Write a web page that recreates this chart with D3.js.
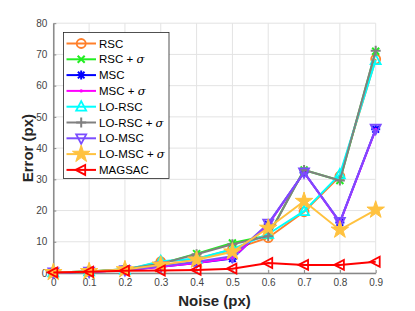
<!DOCTYPE html>
<html><head><meta charset="utf-8">
<script src="https://cdn.jsdelivr.net/npm/d3@7"></script>
<style>body{margin:0;background:#fff;}svg{display:block;font-family:Arial,"Liberation Sans",Helvetica,sans-serif;}</style>
</head><body><svg id="c" width="415" height="311"></svg>
<script>
const noise = [0,0.1,0.2,0.3,0.4,0.5,0.6,0.7,0.8,0.9];
const xTicks = [0,0.1,0.2,0.3,0.4,0.5,0.6,0.7,0.8,0.9];
const yTicks = [0,10,20,30,40,50,60,70,80];
const names = ["RSC","RSC + σ","MSC","MSC + σ","LO-RSC","LO-RSC + σ","LO-MSC","LO-MSC + σ","MAGSAC"];
const colors = ["#FF7F2A","#22EE22","#0000FF","#FF00FF","#00FFFF","#808080","#7B4DFF","#FFC23F","#FF0000"];
const markers = ["circle","x","asterisk","point","triUp","plus","triDown","star","triLeft"];
const rsc      = [0.2,0.5,1.0,3.6,4.5,7.5,11.3,19.6,31.0,68.5];
const rscS     = [0.2,0.5,1.2,3.0,6.2,9.6,12.0,33.0,29.6,71.0];
const msc      = [0.2,0.4,0.9,2.0,3.2,4.6,15.6,32.2,16.2,46.0];
const mscS     = [0.2,0.4,0.9,2.0,3.2,4.8,15.6,32.2,16.2,46.0];
const loRsc    = [0.2,0.5,1.0,3.8,4.6,7.6,12.5,19.8,31.6,68.2];
const loRscS   = [0.2,0.5,1.2,3.0,6.0,9.2,11.8,33.0,29.6,71.2];
const loMsc    = [0.2,0.4,0.9,2.2,3.6,5.4,15.8,32.2,16.4,46.2];
const loMscS   = [0.2,0.5,1.1,2.6,4.2,6.8,14.4,23.0,13.8,20.2];
const magsac   = [0.2,0.4,0.7,0.8,1.0,1.4,3.2,2.6,2.6,3.6];
const series = [rsc,rscS,msc,mscS,loRsc,loRscS,loMsc,loMscS,magsac];

const svg = d3.select("#c");
const x = d3.scaleLinear().domain([0,0.9]).range([53.3,375.7]);
const y = d3.scaleLinear().domain([0,80]).range([273,23.2]);

// grid
svg.append("g").selectAll("line").data(xTicks).join("line")
  .attr("x1",d=>x(d)).attr("x2",d=>x(d)).attr("y1",y(0)).attr("y2",y(80))
  .attr("stroke","#e3e3e3").attr("stroke-width",1);
svg.append("g").selectAll("line").data(yTicks).join("line")
  .attr("x1",x(0)).attr("x2",x(0.9)).attr("y1",d=>y(d)).attr("y2",d=>y(d))
  .attr("stroke","#e3e3e3").attr("stroke-width",1);

// axes
const xa = svg.append("g").attr("transform",`translate(0,${y(0)})`)
  .call(d3.axisBottom(x).tickValues(xTicks).tickFormat(d3.format("~g")).tickSizeInner(-3).tickSizeOuter(0).tickPadding(6));
const ya = svg.append("g").attr("transform",`translate(${x(0)},0)`)
  .call(d3.axisLeft(y).tickValues(yTicks).tickSizeInner(-3).tickSizeOuter(0).tickPadding(6));
[xa,ya].forEach(a=>{
  a.select(".domain").attr("stroke","#888").attr("stroke-width",1.5);
  a.selectAll(".tick line").attr("stroke","#888");
  a.selectAll("text").attr("fill","#444").style("font-size","10px").style("font-family","Arial,'Liberation Sans',sans-serif");
});

svg.append("text").attr("x",(x(0)+x(0.9))/2).attr("y",306).attr("text-anchor","middle")
  .style("font-weight","bold").style("font-size","15px").attr("fill","#262626").text("Noise (px)");
svg.append("text").attr("transform",`translate(33,${(y(0)+y(80))/2}) rotate(-90)`).attr("text-anchor","middle")
  .style("font-weight","bold").style("font-size","15px").attr("fill","#262626").text("Error (px)");

function drawMarker(g, type, color, cx, cy){
  const s = 5;
  if(type==="circle"){
    g.append("circle").attr("cx",cx).attr("cy",cy).attr("r",4.5).attr("fill","none").attr("stroke",color).attr("stroke-width",1.8);
  } else if(type==="x"){
    g.append("path").attr("d",`M${cx-3.5},${cy-3.5}L${cx+3.5},${cy+3.5}M${cx-3.5},${cy+3.5}L${cx+3.5},${cy-3.5}`).attr("stroke",color).attr("stroke-width",2);
  } else if(type==="asterisk"){
    g.append("path").attr("d",`M${cx-4.5},${cy}L${cx+4.5},${cy}M${cx},${cy-4.5}L${cx},${cy+4.5}M${cx-3.3},${cy-3.3}L${cx+3.3},${cy+3.3}M${cx-3.3},${cy+3.3}L${cx+3.3},${cy-3.3}`).attr("stroke",color).attr("stroke-width",2);
  } else if(type==="point"){
    g.append("circle").attr("cx",cx).attr("cy",cy).attr("r",1.6).attr("fill",color);
  } else if(type==="plus"){
    g.append("path").attr("d",`M${cx-5},${cy}L${cx+5},${cy}M${cx},${cy-5}L${cx},${cy+5}`).attr("stroke",color).attr("stroke-width",2);
  } else if(type==="triUp"){
    g.append("path").attr("d",`M${cx},${cy-s*1.1}L${cx+s},${cy+s*0.8}L${cx-s},${cy+s*0.8}Z`).attr("fill","none").attr("stroke",color).attr("stroke-width",1.8);
  } else if(type==="triDown"){
    g.append("path").attr("d",`M${cx},${cy+s*1.1}L${cx+s},${cy-s*0.8}L${cx-s},${cy-s*0.8}Z`).attr("fill","none").attr("stroke",color).attr("stroke-width",1.8);
  } else if(type==="triLeft"){
    g.append("path").attr("d",`M${cx-s*1.1},${cy}L${cx+s*0.8},${cy-s}L${cx+s*0.8},${cy+s}Z`).attr("fill","none").attr("stroke",color).attr("stroke-width",1.8);
  } else if(type==="star"){
    g.append("path").attr("d",d3.symbol().type(d3.symbolStar).size(95)()).attr("transform",`translate(${cx},${cy})`)
      .attr("fill",color).attr("stroke",color).attr("stroke-width",1);
  }
}

const line = d3.line().x((d,i)=>x(noise[i])).y(d=>y(d));
series.forEach((vals,k)=>{
  const g = svg.append("g");
  g.append("path").datum(vals).attr("d",line).attr("fill","none").attr("stroke",colors[k]).attr("stroke-width",2);
  vals.forEach((v,i)=>drawMarker(g,markers[k],colors[k],x(noise[i]),y(v)));
});

// legend
const lg = svg.append("g");
lg.append("rect").attr("x",63.5).attr("y",32.5).attr("width",105.5).attr("height",146)
  .attr("fill","#fff").attr("stroke","#262626").attr("stroke-width",0.8);
names.forEach((n,k)=>{
  const yy = 43.5 + k*15.8;
  lg.append("line").attr("x1",66.5).attr("x2",96).attr("y1",yy).attr("y2",yy).attr("stroke",colors[k]).attr("stroke-width",2);
  drawMarker(lg,markers[k],colors[k],81.2,yy);
  const t = lg.append("text").attr("x",99).attr("y",yy+4).style("font-size","11.5px").attr("fill","#000");
  const parts = n.split("σ");
  t.append("tspan").text(parts[0]);
  if(parts.length>1) t.append("tspan").style("font-style","italic").style("font-family","'DejaVu Serif',serif").text("σ");
});
</script></body></html>
